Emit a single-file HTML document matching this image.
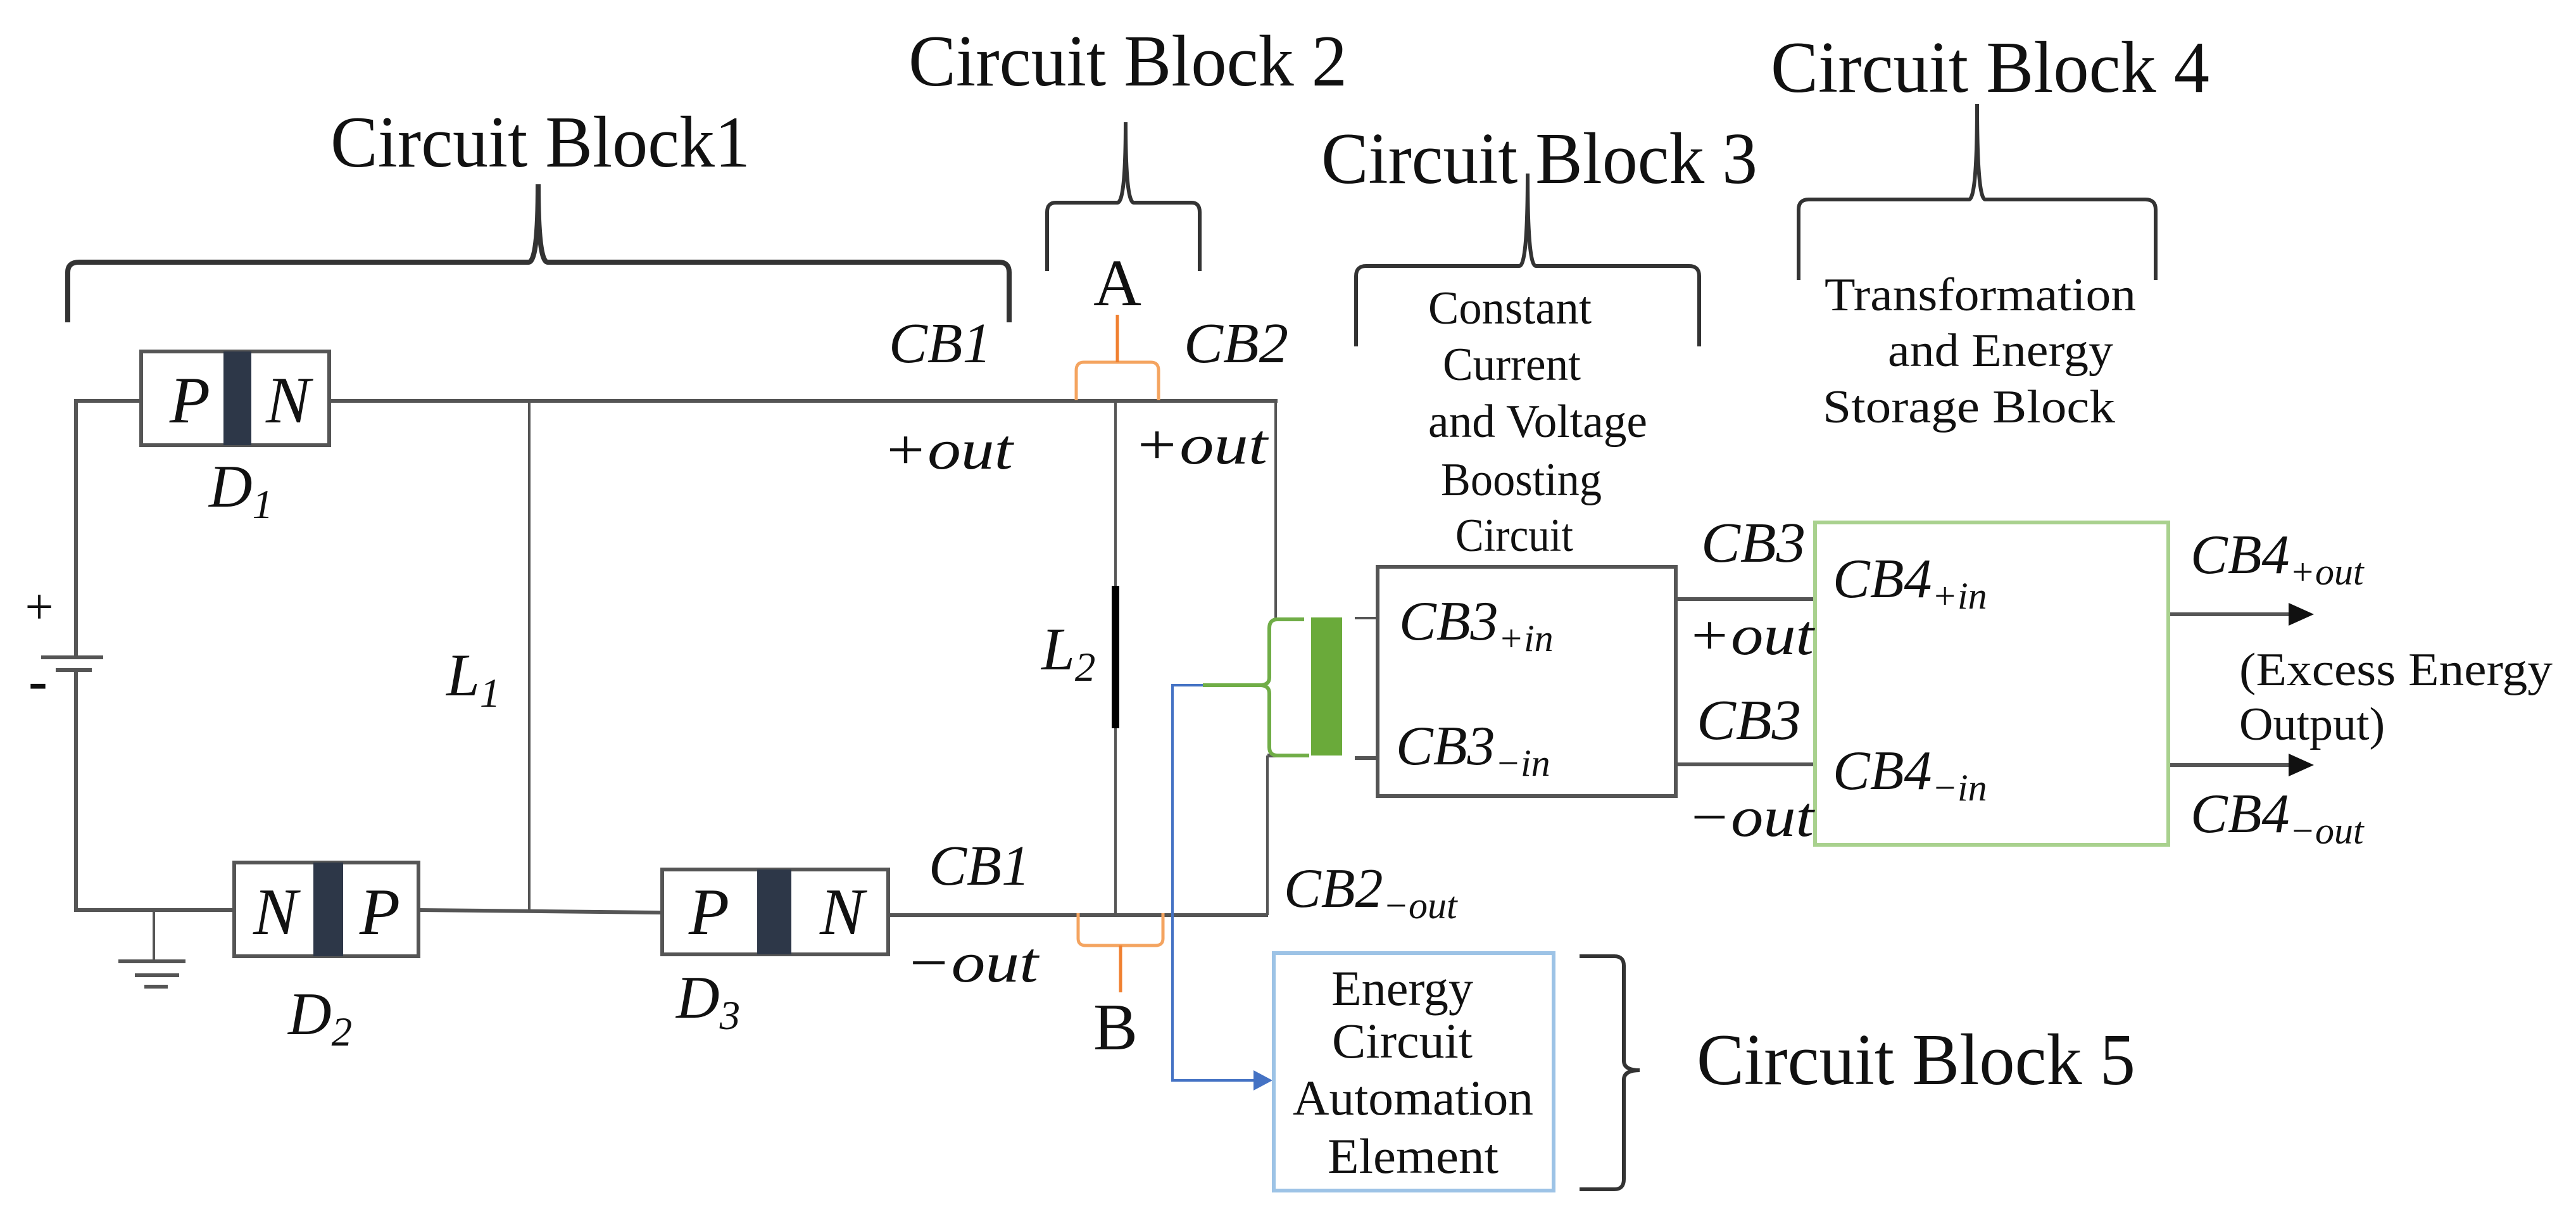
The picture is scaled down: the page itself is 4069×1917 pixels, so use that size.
<!DOCTYPE html>
<html><head><meta charset="utf-8"><style>
html,body{margin:0;padding:0;background:#fff;}
svg{display:block;}
.t{font-family:"Liberation Serif",serif;fill:#111;}
.m{font-family:"Liberation Serif",serif;font-style:italic;fill:#111;}
</style></head><body>
<svg width="4069" height="1917" viewBox="0 0 4069 1917" xmlns="http://www.w3.org/2000/svg">
<rect width="4069" height="1917" fill="#fff"/>
<g fill="none" stroke="#555" stroke-width="6">
<polyline points="223,633 120,633 120,1038"/>
<polyline points="120,1058 120,1437 370,1437"/>
<line x1="520" y1="633" x2="2018" y2="633"/>
<line x1="836" y1="633" x2="836" y2="1437" stroke-width="4"/>
<line x1="661" y1="1437" x2="1046" y2="1441"/>
<line x1="1403" y1="1445" x2="2003" y2="1445"/>
<line x1="1762" y1="633" x2="1762" y2="1445" stroke-width="4"/>
<line x1="2015" y1="633" x2="2015" y2="976" stroke-width="4"/>
<line x1="2002" y1="1193" x2="2002" y2="1445" stroke-width="4"/>
<line x1="2002" y1="1193" x2="2060" y2="1193"/>
<line x1="65" y1="1038" x2="163" y2="1038"/>
<line x1="88" y1="1058" x2="145" y2="1058"/>
<line x1="243" y1="1437" x2="243" y2="1518" stroke-width="4"/>
<line x1="187" y1="1518" x2="293" y2="1518"/>
<line x1="213" y1="1540" x2="283" y2="1540"/>
<line x1="228" y1="1558" x2="265" y2="1558"/>
<rect x="223" y="555" width="297" height="148"/>
<rect x="370" y="1362" width="291" height="148"/>
<rect x="1046" y="1373" width="357" height="134"/>
<rect x="2176" y="895" width="471" height="362"/>
<line x1="2140" y1="976" x2="2176" y2="976" stroke-width="4"/>
<line x1="2140" y1="1197" x2="2176" y2="1197"/>
<line x1="2647" y1="946" x2="2867" y2="946"/>
<line x1="2647" y1="1207" x2="2867" y2="1207"/>
<line x1="3425" y1="970" x2="3620" y2="970"/>
<line x1="3425" y1="1208" x2="3620" y2="1208"/>
</g>
<polygon points="3655,970 3615,952 3615,988" fill="#111"/>
<polygon points="3655,1208 3615,1190 3615,1226" fill="#111"/>
<rect x="353" y="555" width="44" height="148" fill="#2d3748"/>
<rect x="495" y="1362" width="47" height="148" fill="#2d3748"/>
<rect x="1196" y="1373" width="54" height="134" fill="#2d3748"/>
<line x1="1762" y1="925" x2="1762" y2="1150" stroke="#000" stroke-width="12"/>
<path d="M2060,978 L2018,978 Q2005,978 2005,992 L2005,1070 Q2005,1082 1990,1082 Q2005,1082 2005,1095 L2005,1180 Q2005,1193 2018,1193 L2068,1193" fill="none" stroke="#70ad47" stroke-width="6"/>
<line x1="1900" y1="1082" x2="1990" y2="1082" stroke="#70ad47" stroke-width="6"/>
<rect x="2071" y="975" width="49" height="218" fill="#6aaa3a"/>
<rect x="2867" y="825" width="558" height="509" fill="none" stroke="#a9d18e" stroke-width="6"/>
<polyline points="1900,1082 1852,1082 1852,1706 1985,1706" fill="none" stroke="#4472c4" stroke-width="4"/>
<polygon points="2010,1706 1980,1690 1980,1722" fill="#4472c4"/>
<rect x="2012" y="1505" width="442" height="375" fill="none" stroke="#9dc3e6" stroke-width="6"/>
<g fill="none" stroke="#f4a460" stroke-width="5">
<path d="M1700,632 L1700,585 Q1700,572 1712,572 L1818,572 Q1830,572 1830,585 L1830,632"/>
<path d="M1703,1442 L1703,1482 Q1703,1493 1715,1493 L1825,1493 Q1837,1493 1837,1482 L1837,1442"/>
</g>
<line x1="1765" y1="572" x2="1765" y2="497" stroke="#f08030" stroke-width="5"/>
<line x1="1770" y1="1493" x2="1770" y2="1567" stroke="#f08030" stroke-width="5"/>
<g fill="none" stroke="#333" stroke-width="6">
<path d="M107,509 L107,430 Q107,414 125,414 L835,414 Q850,414 850,291 Q850,414 865,414 L1578,414 Q1594,414 1594,430 L1594,509" stroke-width="8"/>
<path d="M1654,428 L1654,335 Q1654,320 1668,320 L1765,320 Q1778,320 1778,193 Q1778,320 1791,320 L1882,320 Q1895,320 1895,335 L1895,428"/>
<path d="M2142,547 L2142,436 Q2142,420 2158,420 L2400,420 Q2413,420 2413,274 Q2413,420 2426,420 L2668,420 Q2684,420 2684,436 L2684,547"/>
<path d="M2841,442 L2841,331 Q2841,315 2857,315 L3110,315 Q3123,315 3123,164 Q3123,315 3136,315 L3389,315 Q3405,315 3405,331 L3405,442"/>
<path d="M2495,1510 L2550,1510 Q2565,1510 2565,1525 L2565,1675 Q2565,1690 2590,1690 Q2565,1690 2565,1705 L2565,1862 Q2565,1878 2550,1878 L2495,1878"/>
</g>
<text class="t" x="522" y="263" font-size="115" textLength="663" lengthAdjust="spacingAndGlyphs">Circuit Block1</text>
<text class="t" x="1435" y="135" font-size="115" textLength="693" lengthAdjust="spacingAndGlyphs">Circuit Block 2</text>
<text class="t" x="2087" y="289" font-size="115" textLength="689" lengthAdjust="spacingAndGlyphs">Circuit Block 3</text>
<text class="t" x="2797" y="145" font-size="115" textLength="693" lengthAdjust="spacingAndGlyphs">Circuit Block 4</text>
<text class="t" x="2680" y="1712" font-size="115" textLength="693" lengthAdjust="spacingAndGlyphs">Circuit Block 5</text>
<text class="t" x="1765" y="482" font-size="105" text-anchor="middle">A</text>
<text class="t" x="1762" y="1657" font-size="105" text-anchor="middle">B</text>
<text class="t" x="62" y="985" font-size="80" text-anchor="middle">+</text>
<text class="t" x="60" y="1105" font-size="90" text-anchor="middle" font-weight="bold">-</text>
<text class="m" x="300" y="667" font-size="105" text-anchor="middle">P</text>
<text class="m" x="455" y="667" font-size="105" text-anchor="middle">N</text>
<text class="m" x="435" y="1475" font-size="105" text-anchor="middle">N</text>
<text class="m" x="600" y="1475" font-size="105" text-anchor="middle">P</text>
<text class="m" x="1120" y="1475" font-size="105" text-anchor="middle">P</text>
<text class="m" x="1330" y="1475" font-size="105" text-anchor="middle">N</text>
<text class="m" x="330" y="800" font-size="95">D<tspan font-size="65" dy="18">1</tspan></text>
<text class="m" x="455" y="1633" font-size="95">D<tspan font-size="65" dy="18">2</tspan></text>
<text class="m" x="1068" y="1607" font-size="95">D<tspan font-size="65" dy="18">3</tspan></text>
<text class="m" x="705" y="1098" font-size="95">L<tspan font-size="65" dy="18">1</tspan></text>
<text class="m" x="1645" y="1057" font-size="95">L<tspan font-size="65" dy="18">2</tspan></text>
<text class="m" x="1404" y="572" font-size="90" textLength="162" lengthAdjust="spacingAndGlyphs">CB1</text>
<text class="m" x="1870" y="572" font-size="90" textLength="165" lengthAdjust="spacingAndGlyphs">CB2</text>
<text class="m" x="1394" y="740" font-size="90" textLength="206" lengthAdjust="spacingAndGlyphs">+out</text>
<text class="m" x="1790" y="732" font-size="90" textLength="212" lengthAdjust="spacingAndGlyphs">+out</text>
<text class="m" x="1467" y="1397" font-size="90" textLength="160" lengthAdjust="spacingAndGlyphs">CB1</text>
<text class="m" x="1430" y="1550" font-size="90" textLength="210" lengthAdjust="spacingAndGlyphs">−out</text>
<text class="m" x="2028" y="1432" font-size="88">CB2<tspan font-size="60" dy="18">−out</tspan></text>
<text class="m" x="2210" y="1010" font-size="88">CB3<tspan font-size="60" dy="18">+in</tspan></text>
<text class="m" x="2205" y="1207" font-size="88">CB3<tspan font-size="60" dy="18">−in</tspan></text>
<text class="m" x="2687" y="887" font-size="90" textLength="165" lengthAdjust="spacingAndGlyphs">CB3</text>
<text class="m" x="2665" y="1033" font-size="90" textLength="200" lengthAdjust="spacingAndGlyphs">+out</text>
<text class="m" x="2680" y="1167" font-size="90" textLength="165" lengthAdjust="spacingAndGlyphs">CB3</text>
<text class="m" x="2665" y="1320" font-size="90" textLength="200" lengthAdjust="spacingAndGlyphs">−out</text>
<text class="m" x="2895" y="943" font-size="88">CB4<tspan font-size="60" dy="18">+in</tspan></text>
<text class="m" x="2895" y="1246" font-size="88">CB4<tspan font-size="60" dy="18">−in</tspan></text>
<text class="m" x="3460" y="905" font-size="88">CB4<tspan font-size="60" dy="18">+out</tspan></text>
<text class="m" x="3460" y="1314" font-size="88">CB4<tspan font-size="60" dy="18">−out</tspan></text>
<text class="t" x="3537" y="1082" font-size="74" textLength="495" lengthAdjust="spacingAndGlyphs">(Excess Energy</text>
<text class="t" x="3537" y="1168" font-size="74">Output)</text>
<g class="t" font-size="74" text-anchor="middle" lengthAdjust="spacingAndGlyphs">
<text x="2385" y="511" textLength="258" lengthAdjust="spacingAndGlyphs">Constant</text>
<text x="2388" y="600" textLength="218" lengthAdjust="spacingAndGlyphs">Current</text>
<text x="2429" y="690" textLength="346" lengthAdjust="spacingAndGlyphs">and Voltage</text>
<text x="2403" y="782" textLength="254" lengthAdjust="spacingAndGlyphs">Boosting</text>
<text x="2392" y="870" textLength="186" lengthAdjust="spacingAndGlyphs">Circuit</text>
<text x="3128" y="490" textLength="492" lengthAdjust="spacingAndGlyphs">Transformation</text>
<text x="3160" y="578" textLength="356" lengthAdjust="spacingAndGlyphs">and Energy</text>
<text x="3110" y="667" textLength="462" lengthAdjust="spacingAndGlyphs">Storage Block</text>
</g>
<g class="t" font-size="78" text-anchor="middle">
<text x="2215" y="1587" textLength="224" lengthAdjust="spacingAndGlyphs">Energy</text>
<text x="2215" y="1670" textLength="222" lengthAdjust="spacingAndGlyphs">Circuit</text>
<text x="2232" y="1760" textLength="380" lengthAdjust="spacingAndGlyphs">Automation</text>
<text x="2232" y="1852" textLength="270" lengthAdjust="spacingAndGlyphs">Element</text>
</g>
</svg>
</body></html>
